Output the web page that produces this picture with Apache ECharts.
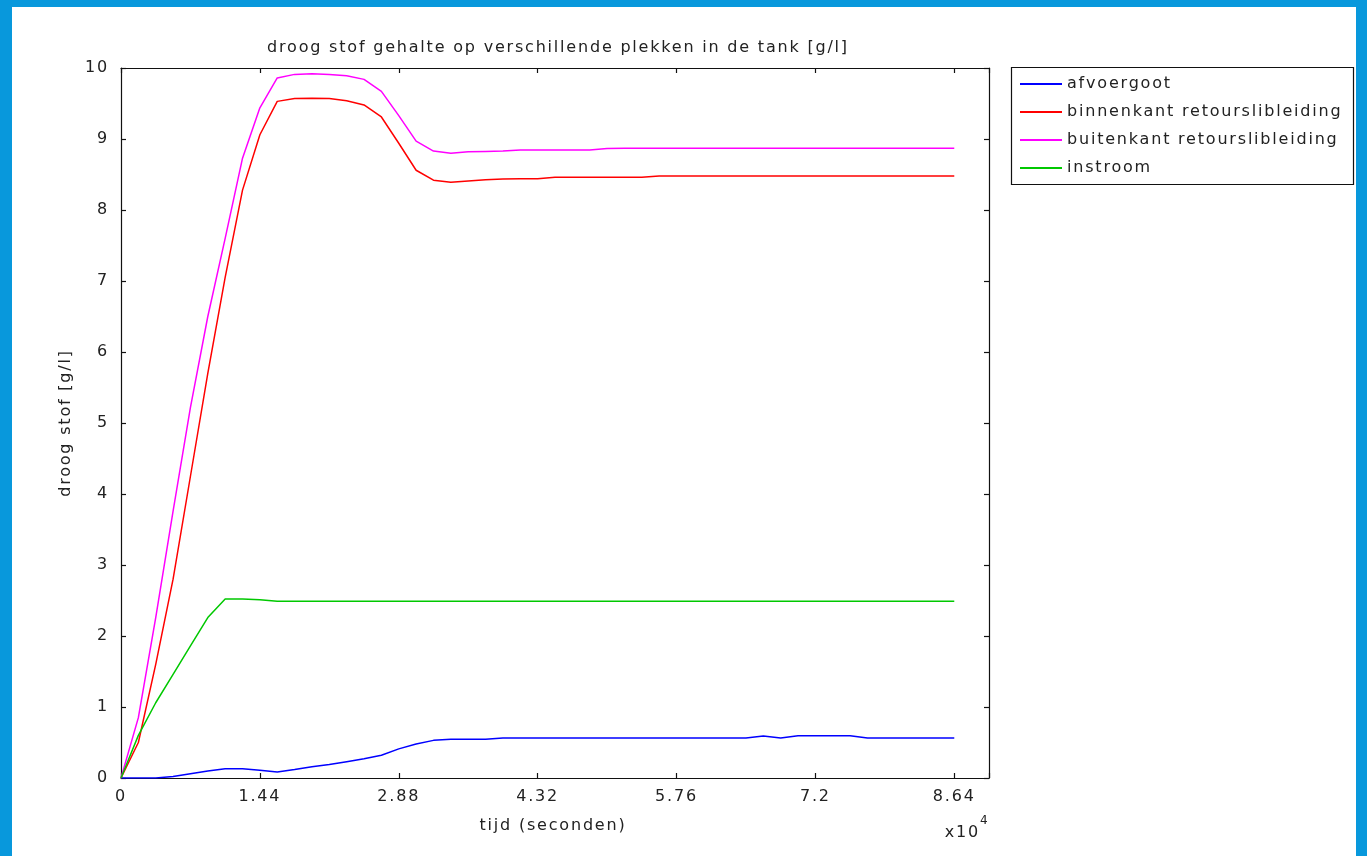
<!DOCTYPE html>
<html>
<head>
<meta charset="utf-8">
<script src="https://cdn.jsdelivr.net/npm/echarts@6/dist/echarts.min.js"></script>
<style>
html,body{margin:0;padding:0;width:1367px;height:856px;overflow:hidden;background:#0898dc;}
#inner{position:absolute;left:12px;top:7px;width:1344px;height:849px;background:#ffffff;}
#chart{position:absolute;left:0;top:0;width:1367px;height:856px;}
</style>
</head>
<body>
<div id="inner"></div>
<div id="chart"></div>
<script>
// The reference renders its text with wide letter spacing; emulate it for every canvas text
(function () {
  try {
    const proto = CanvasRenderingContext2D.prototype;
    const desc = Object.getOwnPropertyDescriptor(proto, 'font');
    if (desc && 'letterSpacing' in proto) {
      Object.defineProperty(proto, 'font', {
        configurable: true,
        get: function () { return desc.get.call(this); },
        set: function (v) { desc.set.call(this, v); this.letterSpacing = '1.8px'; }
      });
    }
  } catch (e) {}
})();

const titleText = 'droog stof gehalte op verschillende plekken in de tank [g/l]';
const xAxisName = 'tijd (seconden)';
const yAxisName = 'droog stof [g/l]';
const seriesNames = ['afvoergoot', 'binnenkant retourslibleiding', 'buitenkant retourslibleiding', 'instroom'];

const times = [0, 1800, 3600, 5400, 7200, 9000, 10800, 12600, 14400, 16200,
  18000, 19800, 21600, 23400, 25200, 27000, 28800, 30600, 32400, 34200,
  36000, 37800, 39600, 41400, 43200, 45000, 46800, 48600, 50400, 52200,
  54000, 55800, 57600, 59400, 61200, 63000, 64800, 66600, 68400, 70200,
  72000, 73800, 75600, 77400, 79200, 81000, 82800, 84600, 86400];

const afvoergoot = [0, 0, 0, 0.02, 0.06, 0.10, 0.13, 0.13, 0.11, 0.085,
  0.12, 0.16, 0.19, 0.23, 0.27, 0.32, 0.41, 0.48, 0.53, 0.545,
  0.545, 0.545, 0.565, 0.565, 0.565, 0.565, 0.565, 0.565, 0.565, 0.565,
  0.565, 0.565, 0.565, 0.565, 0.565, 0.565, 0.565, 0.59, 0.565, 0.595,
  0.595, 0.595, 0.595, 0.565, 0.565, 0.565, 0.565, 0.565, 0.565];

const binnenkant = [0, 0.5, 1.6, 2.8, 4.25, 5.7, 7.05, 8.28, 9.06, 9.53,
  9.57, 9.575, 9.57, 9.54, 9.48, 9.31, 8.94, 8.56, 8.42, 8.39,
  8.41, 8.425, 8.435, 8.44, 8.44, 8.46, 8.46, 8.46, 8.46, 8.46,
  8.46, 8.48, 8.48, 8.48, 8.48, 8.48, 8.48, 8.48, 8.48, 8.48,
  8.48, 8.48, 8.48, 8.48, 8.48, 8.48, 8.48, 8.48, 8.48];

const buitenkant = [0, 0.85, 2.26, 3.76, 5.22, 6.5, 7.6, 8.73, 9.44, 9.86,
  9.91, 9.92, 9.91, 9.89, 9.84, 9.67, 9.33, 8.97, 8.83, 8.80,
  8.82, 8.825, 8.83, 8.845, 8.845, 8.845, 8.845, 8.845, 8.865, 8.87,
  8.87, 8.87, 8.87, 8.87, 8.87, 8.87, 8.87, 8.87, 8.87, 8.87,
  8.87, 8.87, 8.87, 8.87, 8.87, 8.87, 8.87, 8.87, 8.87];

const instroom = [0, 0.6, 1.06, 1.46, 1.86, 2.26, 2.52, 2.52, 2.51, 2.49,
  2.49, 2.49, 2.49, 2.49, 2.49, 2.49, 2.49, 2.49, 2.49, 2.49,
  2.49, 2.49, 2.49, 2.49, 2.49, 2.49, 2.49, 2.49, 2.49, 2.49,
  2.49, 2.49, 2.49, 2.49, 2.49, 2.49, 2.49, 2.49, 2.49, 2.49,
  2.49, 2.49, 2.49, 2.49, 2.49, 2.49, 2.49, 2.49, 2.49];

const colors = ['#0000ff', '#ff0000', '#ff00ff', '#00c800'];
const allValues = [afvoergoot, binnenkant, buitenkant, instroom];

const FONT = 'DejaVu Sans';
const TXT = '#222222';

function pairs(vals) { return times.map((t, i) => [t, vals[i]]); }

const chart = echarts.init(document.getElementById('chart'), null, {renderer: 'canvas'});

const xBase = {
  type: 'value', min: 0, max: 90000, interval: 14400,
  axisLine: {show: true, onZero: false, lineStyle: {color: '#111', width: 1.2}},
  axisTick: {show: true, inside: true, length: 5, lineStyle: {color: '#111', width: 1.2}},
  splitLine: {show: false}
};
const yBase = {
  type: 'value', min: 0, max: 10, interval: 1,
  axisLine: {show: true, onZero: false, lineStyle: {color: '#111', width: 1.2}},
  axisTick: {show: true, inside: true, length: 5, lineStyle: {color: '#111', width: 1.2}},
  splitLine: {show: false}
};

chart.setOption({
  animation: false,
  backgroundColor: 'transparent',
  grid: {left: 121, top: 68, right: 378, bottom: 78, containLabel: false},
  xAxis: [
    Object.assign({}, xBase, {
      position: 'bottom',
      axisLabel: {
        show: true, margin: 10, fontFamily: FONT, fontSize: 16, color: TXT,
        formatter: function (v) {
          if (v > 86400) return '';
          return String(Math.round(v / 100) / 100);
        }
      }
    }),
    Object.assign({}, xBase, {position: 'top', axisLabel: {show: false}})
  ],
  yAxis: [
    Object.assign({}, yBase, {
      position: 'left',
      axisLabel: {show: true, margin: 12, fontFamily: FONT, fontSize: 16, color: TXT}
    }),
    Object.assign({}, yBase, {position: 'right', axisLabel: {show: false}})
  ],
  legend: {
    show: true, orient: 'vertical', left: 1020, top: 74, padding: 0,
    itemGap: 8, itemWidth: 42, itemHeight: 2, icon: 'rect',
    selectedMode: false,
    textStyle: {fontFamily: FONT, fontSize: 16, color: TXT, lineHeight: 20},
    data: seriesNames
  },
  series: seriesNames.map((name, i) => ({
    name: name, type: 'line', xAxisIndex: 0, yAxisIndex: 0,
    data: pairs(allValues[i]), symbol: 'none', showSymbol: false,
    lineStyle: {color: colors[i], width: 1.5},
    itemStyle: {color: colors[i]},
    z: 2
  })),
  graphic: [
    {type: 'rect', shape: {x: 1011.5, y: 67.5, width: 342, height: 117},
     style: {fill: 'none', stroke: '#111', lineWidth: 1.2}, z: 1},
    {type: 'text', x: 558, y: 48, style: {text: titleText, fontFamily: FONT, fontSize: 16,
      fill: TXT, textAlign: 'center', textVerticalAlign: 'middle'}},
    {type: 'text', x: 553, y: 826, style: {text: xAxisName, fontFamily: FONT, fontSize: 16,
      fill: TXT, textAlign: 'center', textVerticalAlign: 'middle'}},
    {type: 'text', x: 66, y: 423, rotation: Math.PI / 2, style: {text: yAxisName, fontFamily: FONT, fontSize: 16,
      fill: TXT, textAlign: 'center', textVerticalAlign: 'middle'}},
    {type: 'text', x: 980, y: 833, style: {text: 'x10', fontFamily: FONT, fontSize: 16,
      fill: TXT, textAlign: 'right', textVerticalAlign: 'middle'}},
    {type: 'text', x: 980, y: 821, style: {text: '4', fontFamily: FONT, fontSize: 12,
      fill: TXT, textAlign: 'left', textVerticalAlign: 'middle'}}
  ]
});
</script>
</body>
</html>
